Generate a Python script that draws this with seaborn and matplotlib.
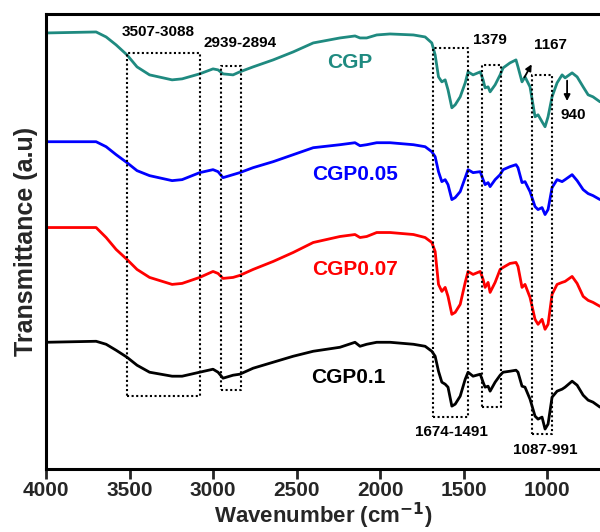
import matplotlib
matplotlib.use("Agg")
import matplotlib.pyplot as plt
import seaborn as sns
import pandas as pd

sns.set_theme(style="white")
plt.rcParams['font.family'] = ['Liberation Sans', 'DejaVu Sans']

# Wavenumber anchors (cm-1)
wavenumber = [4000, 3700, 3640, 3580, 3515, 3455, 3380, 3245, 3185, 3080,
              3000, 2970, 2940, 2880, 2840, 2760, 2640, 2520, 2400, 2240,
              2150, 2120, 2080, 2020, 1940, 1800, 1730, 1690, 1670, 1650,
              1630, 1610, 1593, 1570, 1550, 1520, 1490, 1473, 1443, 1400,
              1383, 1371, 1353, 1341, 1311, 1281, 1263, 1222, 1186, 1174,
              1150, 1132, 1102, 1072, 1054, 1030, 1012, 994, 970, 940,
              910, 892, 850, 820, 784, 754, 725, 683]

# Transmittance (a.u., stacked)
cgp = [437, 438, 433, 425, 415, 403, 395, 390, 391, 396,
       401, 400, 396, 395, 398, 403, 410, 418, 427, 432,
       434, 432, 432, 435, 436, 435, 433, 427, 415, 393,
       388, 390, 380, 362, 365, 373, 387, 398, 395, 398,
       390, 382, 383, 378, 385, 395, 402, 407, 410, 403,
       388, 393, 383, 353, 355, 348, 343, 353, 373, 387,
       395, 392, 397, 393, 383, 375, 373, 368]
cgp005 = [328, 328, 323, 315, 307, 299, 294, 289, 290, 297,
          300, 298, 292, 295, 297, 302, 308, 315, 322, 325,
          327, 324, 325, 327, 327, 325, 323, 318, 313, 298,
          288, 290, 285, 270, 272, 278, 292, 300, 297, 298,
          290, 285, 287, 283, 290, 295, 300, 303, 305, 302,
          287, 288, 278, 263, 260, 262, 255, 260, 282, 290,
          288, 290, 295, 289, 280, 276, 274, 270]
cgp007 = [242, 242, 232, 220, 210, 200, 192, 185, 186, 192,
          198, 196, 191, 192, 194, 200, 208, 217, 227, 233,
          235, 232, 233, 237, 237, 235, 232, 227, 218, 185,
          178, 182, 173, 155, 157, 165, 187, 198, 195, 198,
          190, 182, 187, 177, 187, 200, 202, 206, 207, 203,
          182, 185, 172, 150, 145, 150, 140, 145, 175, 185,
          187, 188, 193, 186, 173, 169, 167, 163]
cgp01 = [127, 128, 125, 119, 112, 104, 97, 93, 93, 97,
         100, 97, 91, 94, 95, 101, 107, 113, 118, 122,
         127, 123, 125, 127, 127, 125, 123, 118, 113, 98,
         87, 85, 82, 63, 65, 73, 90, 97, 93, 95,
         87, 82, 83, 78, 87, 94, 97, 98, 99, 97,
         83, 82, 70, 53, 50, 52, 40, 45, 72, 78,
         80, 82, 88, 84, 74, 69, 67, 62]

series_names = ["CGP", "CGP0.05", "CGP0.07", "CGP0.1"]
series_colors = ["#1f8a80", "#0000ff", "#ff0000", "#000000"]
xticks = [4000, 3500, 3000, 2500, 2000, 1500, 1000]

# Dotted boxes: (w_left, w_right, y_bottom, y_top)
box_left = [3515, 2952, 1683, 1389, 1090]
box_right = [3078, 2832, 1473, 1275, 970]
box_bottom = [73, 79, 52, 62, 35]
box_top = [417, 404, 422, 405, 395]

# Annotation labels
ann_text = ["3507-3088", "2939-2894", "1379", "1167", "940", "1674-1491", "1087-991"]
ann_x = [3329, 2838, 1341, 982, 844, 1575, 1012]
ann_y = [438, 427, 430, 425, 355, 37, 19]

# Series labels
lab_x = [2180, 2150, 2150, 2192]
lab_y = [407, 295, 200, 92]

frames = []
for name, vals in zip(series_names, [cgp, cgp005, cgp007, cgp01]):
    frames.append(pd.DataFrame({"w": wavenumber, "T": vals, "s": name}))
df = pd.concat(frames, ignore_index=True)

fig = plt.figure(figsize=(6.0, 5.32), dpi=100)
ax = fig.add_axes([46 / 600, 63 / 532, 554 / 600, 455 / 532])

sns.lineplot(data=df, x="w", y="T", hue="s", palette=dict(zip(series_names, series_colors)),
             sort=False, estimator=None, linewidth=2.0, legend=False, ax=ax)

for l, r, b, t in zip(box_left, box_right, box_bottom, box_top):
    ax.plot([l, r, r, l, l], [b, b, t, t, b], color="black", linestyle=(0, (1, 1.2)), linewidth=1.5)

for txt, x, y in zip(ann_text, ann_x, ann_y):
    ax.text(x, y, txt, ha="center", va="center", fontsize=11, fontweight="bold", color="black")

for name, col, x, y in zip(series_names, series_colors, lab_x, lab_y):
    ax.text(x, y, name, ha="center", va="center", fontsize=15, fontweight="bold", color=col)

ax.annotate("", xy=(1084, 408), xytext=(1144, 390),
            arrowprops=dict(arrowstyle="-|>", color="black", lw=1.3, mutation_scale=9))
ax.annotate("", xy=(880, 366), xytext=(880, 392),
            arrowprops=dict(arrowstyle="-|>", color="black", lw=1.3, mutation_scale=9))

ax.set_xlim(4000, 683)
ax.set_ylim(0, 456)
ax.set_xticks(xticks)
ax.set_xticklabels([str(t) for t in xticks], fontsize=15, fontweight="bold")
ax.set_yticks([])
ax.tick_params(axis="x", direction="out", length=7, width=2, bottom=True, pad=2)
for side in ["left", "bottom", "top"]:
    ax.spines[side].set_linewidth(2.2)
    ax.spines[side].set_color("black")
ax.spines["right"].set_visible(False)
ax.set_xlabel("Wavenumber (cm$^{\\mathbf{-1}}$)", fontsize=16, fontweight="bold", labelpad=0)
ax.set_ylabel("Transmittance (a.u)", fontsize=18, fontweight="bold", labelpad=6)

fig.savefig("out.png", dpi=100, facecolor="white")
